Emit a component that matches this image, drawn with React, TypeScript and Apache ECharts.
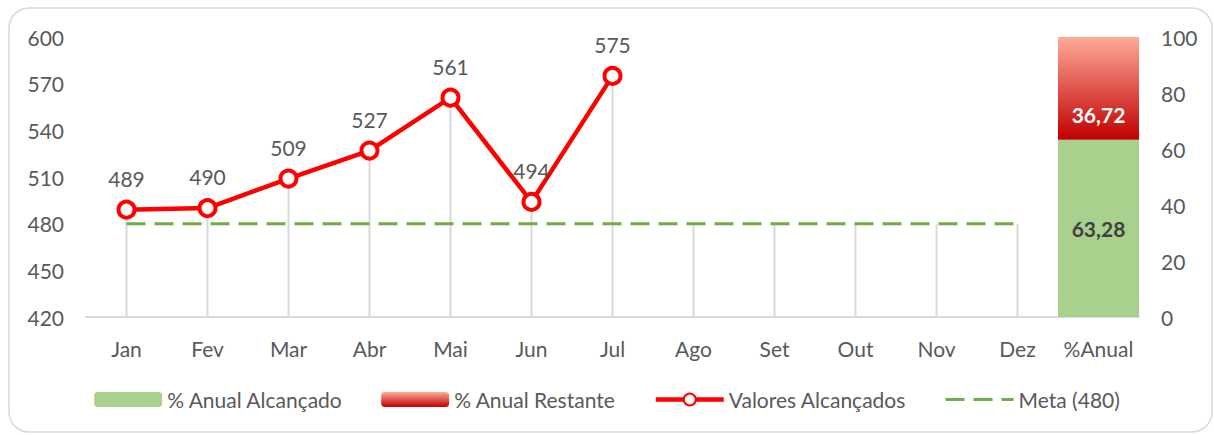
import React, { useEffect, useRef } from "react";
import * as echarts from "echarts";

const categories = ["Jan", "Fev", "Mar", "Abr", "Mai", "Jun", "Jul", "Ago", "Set", "Out", "Nov", "Dez", "%Anual"];
const valoresAlcancados: (number | null)[] = [489, 490, 509, 527, 561, 494, 575, null, null, null, null, null, null];
const meta: (number | null)[] = [480, 480, 480, 480, 480, 480, 480, 480, 480, 480, 480, 480, null];
const anualAlcancado: (number | null)[] = [null, null, null, null, null, null, null, null, null, null, null, null, 63.28];
const anualRestante: (number | null)[] = [null, null, null, null, null, null, null, null, null, null, null, null, 36.72];
const leftTicks = { min: 420, max: 600, interval: 30 };
const rightTicks = { min: 0, max: 100, interval: 20 };

const FONT = "Lato";
const TXT = "#595959";
const FS = 21;

export default function App() {
  const ref = useRef<HTMLDivElement>(null);
  useEffect(() => {
    document.body.style.margin = "0";
    const chart = echarts.init(ref.current!, null, { renderer: "svg" });
    const dropData: [number, number][] = [];
    meta.forEach((m, i) => {
      const v = valoresAlcancados[i];
      const tops = [m, v].filter((x) => x != null) as number[];
      if (tops.length) dropData.push([i, Math.max(...tops)]);
    });
    const fmt = (n: number) => n.toFixed(2).replace(".", ",");
    chart.setOption({
      animation: false,
      textStyle: { fontFamily: FONT },
      graphic: [
        {
          type: "rect",
          shape: { x: 9, y: 8, width: 1203, height: 424, r: 20 },
          style: { fill: "none", stroke: "#d9d9d9", lineWidth: 1.5 },
          silent: true,
          z: -10,
        },
      ],
      grid: { left: 86, right: 75, top: 37, bottom: 118 },
      legend: {
        bottom: 20,
        left: "center",
        itemWidth: 68,
        itemHeight: 15,
        itemGap: 38,
        textStyle: { fontSize: FS, color: TXT, fontFamily: FONT },
        data: [
          { name: "% Anual Alcançado" },
          { name: "% Anual Restante" },
          { name: "Valores Alcançados", lineStyle: { width: 4.5 } },
          { name: "Meta (480)", itemStyle: { opacity: 0 }, lineStyle: { width: 3 } },
        ],
      },
      xAxis: {
        type: "category",
        data: categories,
        axisLine: { lineStyle: { color: "#d9d9d9", width: 2 } },
        axisTick: { show: false },
        axisLabel: { fontSize: FS, color: TXT, margin: 21, fontFamily: FONT, interval: 0 },
      },
      yAxis: [
        {
          type: "value",
          ...leftTicks,
          splitLine: { show: false },
          axisLine: { show: false },
          axisTick: { show: false },
          axisLabel: { fontSize: FS, color: TXT, margin: 22, fontFamily: FONT },
        },
        {
          type: "value",
          ...rightTicks,
          position: "right",
          splitLine: { show: false },
          axisLine: { show: false },
          axisTick: { show: false },
          axisLabel: { fontSize: FS, color: TXT, margin: 22, fontFamily: FONT },
        },
      ],
      series: [
        {
          name: "drop",
          type: "custom",
          yAxisIndex: 0,
          data: dropData,
          z: 1,
          silent: true,
          renderItem: (params: any, api: any) => {
            const top = api.coord([api.value(0), api.value(1)]);
            const bot = api.coord([api.value(0), leftTicks.min]);
            return {
              type: "line",
              shape: { x1: top[0], y1: top[1], x2: bot[0], y2: bot[1] },
              style: { stroke: "#d9d9d9", lineWidth: 2 },
            };
          },
        },
        {
          name: "% Anual Alcançado",
          type: "bar",
          stack: "anual",
          yAxisIndex: 1,
          barWidth: "100%",
          data: anualAlcancado,
          itemStyle: { color: "#A9D18E" },
          label: {
            show: true,
            position: "inside",
            formatter: (p: any) => fmt(p.value),
            fontSize: 21,
            fontWeight: "bold",
            color: "#404040",
            fontFamily: FONT,
          },
          z: 2,
        },
        {
          name: "% Anual Restante",
          type: "bar",
          stack: "anual",
          yAxisIndex: 1,
          barWidth: "100%",
          data: anualRestante,
          itemStyle: {
            color: new echarts.graphic.LinearGradient(0, 0, 0, 1, [
              { offset: 0, color: "#FFAB99" },
              { offset: 1, color: "#C00000" },
            ]),
          },
          label: {
            show: true,
            position: "insideBottom",
            distance: 15,
            formatter: (p: any) => fmt(p.value),
            fontSize: 21,
            fontWeight: "bold",
            color: "#ffffff",
            fontFamily: FONT,
          },
          z: 2,
        },
        {
          name: "Meta (480)",
          type: "line",
          yAxisIndex: 0,
          data: meta,
          symbol: "none",
          lineStyle: { color: "#70AD47", width: 3, type: [19, 9] },
          itemStyle: { color: "#70AD47" },
          z: 3,
        },
        {
          name: "Valores Alcançados",
          type: "line",
          yAxisIndex: 0,
          data: valoresAlcancados,
          symbol: "circle",
          symbolSize: 16,
          lineStyle: { color: "#FF0000", width: 4.5 },
          itemStyle: { color: "#ffffff", borderColor: "#FF0000", borderWidth: 4 },
          label: {
            show: true,
            position: "top",
            distance: 11,
            fontSize: FS,
            color: TXT,
            fontFamily: FONT,
          },
          z: 4,
        },
      ],
    });
    return () => chart.dispose();
  }, []);
  return <div ref={ref} style={{ width: 1214, height: 435 }} />;
}
